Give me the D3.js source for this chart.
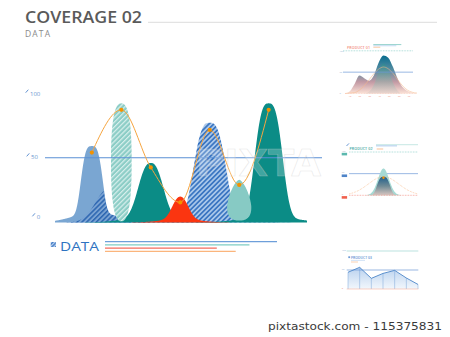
<!DOCTYPE html>
<html><head><meta charset="utf-8">
<script src="https://cdn.jsdelivr.net/npm/d3@7"></script>
<style>html,body{margin:0;padding:0;background:#fff;} svg{display:block;}</style>
</head><body>
<svg id="c" width="450" height="337"></svg>
<script>
// ================= DATA =================
const titleText = "COVERAGE 02";
const subtitleText = "DATA";
const categories = ["A", "B", "C", "D", "E", "F", "G"];
const peakValues = [59, 92, 46, 20, 77, 33, 92];          // height of each distribution
const peakSpread = [0.34, 0.35, 0.40, 0.26, 0.51, 0.41, 0.44]; // spread, in category units
const lineValues = [54, 87, 42.5, 15.5, 71.5, 29, 87];    // orange trend line
const shadowPeak = [1.55, 26, 0.42];                        // hidden hatched base: position, value, spread
const yTicks = [0, 50, 100];
const refValue = 50;
const legendLabel = "DATA";
const legendValues = [100, 84, 65, 76];

// small panel 1
const p1Title = "PRODUCT 01";
const p1Area = [0, 5, 22, 42, 36, 30, 42, 72, 89, 84, 62, 34, 15, 6, 2, 0];
const p1Inner = [0, 0, 0, 0, 0, 4, 20, 50, 70, 55, 25, 6, 0, 0, 0, 0];
const p1Curve = [0, 1, 2, 8, 18, 32, 46, 57, 62, 58, 47, 32, 18, 8, 3, 1];
const p1Ticks = ["10", "20", "30", "40", "50", "60", "70"];
const p1YTicks = [0, 50, 100];
// small panel 2
const p2Title = "PRODUCT 02";
const p2Peaks = [62, 43];       // light bell, dark bell
const p2Spread = [0.8, 0.87];
const p2Curve = [43, 2.2];      // orange dotted bell: height, spread
const p2YTicks = [0, 50, 100];
// small panel 3
const p3Title = "PRODUCT 03";
const p3Values = [44, 57, 28, 41, 49, 29, 12];
const p3YTicks = [0, 50, 100];

const watermark = "pixtastock.com - 115375831";

// ================= DRAW =================
const svg = d3.select("#c");
const defs = svg.append("defs");
const FONT = "'Open Sans', 'Noto Sans', sans-serif";

function hatch(id, bg, fg, w, size) {
  const p = defs.append("pattern").attr("id", id).attr("patternUnits", "userSpaceOnUse")
    .attr("width", size).attr("height", size).attr("patternTransform", "rotate(45)");
  p.append("rect").attr("width", size).attr("height", size).attr("fill", bg);
  p.append("rect").attr("width", w).attr("height", size).attr("fill", fg);
}
hatch("hTeal", "#8ccdc6", "#d9f0ed", 1.2, 3.4);
hatch("hBlue", "#a9c7ea", "#3b76c2", 1.7, 3.4);
hatch("hDark", "#7aa3d3", "#2b65b0", 1.5, 3.4);
hatch("hLegend", "#b9d1ef", "#3b76c2", 1.3, 2.6);

// --- header ---
svg.append("text").attr("x", 25).attr("y", 22.7).attr("font-family", FONT).attr("font-weight", 600)
  .attr("font-size", 16).attr("fill", "#5a5a5a").attr("textLength", 117).attr("lengthAdjust", "spacingAndGlyphs")
  .text(titleText);
svg.append("line").attr("x1", 148).attr("x2", 437).attr("y1", 22.3).attr("y2", 22.3)
  .attr("stroke", "#dddddd").attr("stroke-width", 1);
svg.append("text").attr("x", 25).attr("y", 36.7).attr("font-family", FONT)
  .attr("font-size", 8.5).attr("fill", "#8a8a8a").attr("textLength", 25).text(subtitleText);

// --- main chart ---
const x = d3.scaleLinear().domain([-0.25, 8.3]).range([55, 307]);
const y = d3.scaleLinear().domain([0, 100]).range([222.5, 93]);
const pos = categories.map((c, i) => i + 1);

const peakStyle = [
  { fill: "#7aa6d2", kind: "bell", p: 3.5, tail: [0.12, 2] },
  { fill: "url(#hTeal)", kind: "drop", center: 0.51, bottom: 0.01, pu: 2.5, pl: 2.5 },
  { fill: "#0b8c86", kind: "bell", p: 2.5, tail: [0.1, 2] },
  { fill: "#fb3510", kind: "bell", p: 2.2, tail: [0.12, 2.5] },
  { fill: "url(#hBlue)", kind: "bell", p: 3, tail: [0.05, 2] },
  { fill: "#87cac4", kind: "drop", center: 0.36, bottom: 0.045, pu: 1.5, pl: 2.5 },
  { fill: "#0b8c86", kind: "bell", p: 3, tail: [0.05, 2] }
];
const drawOrder = [0, "shadow", 2, 1, 4, 6, 5, 3];
const us = d3.range(-0.25, 8.3001, 0.01);

const bellVal = (u, cx, P, s, p, tail) => {
  const t = tail || [0, 1];
  return P * ((1 - t[0]) * Math.exp(-0.5 * Math.pow(Math.abs((u - cx) / s), p)) +
              t[0] * Math.exp(-0.5 * Math.pow((u - cx) / (s * t[1]), 2)));
};
function bellPath(cx, P, s, st) {
  return d3.area().x(u => x(u)).y0(y(0)).y1(u => y(bellVal(u, cx, P, s, st.p, st.tail)))(us);
}
function dropPath(cx, P, a, st) {
  const c = P * st.center, b = P * st.bottom;
  const pts = [];
  for (let k = 0; k <= 240; k++) {
    const th = -Math.PI / 2 + 2 * Math.PI * k / 240;
    const ct = Math.cos(th), sn = Math.sin(th);
    const up = sn >= 0;
    const pe = up ? st.pu : st.pl;
    const semi = up ? (P - c) : (c - b);
    const dx = a * Math.sign(ct) * Math.pow(Math.abs(ct), 2 / pe);
    const dv = semi * Math.sign(sn) * Math.pow(Math.abs(sn), 2 / pe);
    pts.push([x(cx + dx), y(c + dv)]);
  }
  return d3.line()(pts) + "Z";
}

const gPeaks = svg.append("g");
drawOrder.forEach(k => {
  if (k === "shadow") {
    // hatched base that sits inside the first distribution
    const d = d3.area().x(u => x(u)).y0(y(0)).y1(u => y(Math.min(
      bellVal(u, shadowPeak[0], shadowPeak[1], shadowPeak[2], 2),
      0.8 * bellVal(u, pos[0], peakValues[0], peakSpread[0], peakStyle[0].p, peakStyle[0].tail) + 2.5)))(us);
    gPeaks.append("path").attr("d", d).attr("fill", "url(#hDark)");
    return;
  }
  const st = peakStyle[k];
  const d = st.kind === "bell" ? bellPath(pos[k], peakValues[k], peakSpread[k], st)
                               : dropPath(pos[k], peakValues[k], peakSpread[k], st);
  gPeaks.append("path").attr("d", d).attr("fill", st.fill);
});

// reference line
svg.append("line").attr("x1", 45).attr("x2", 322).attr("y1", y(refValue)).attr("y2", y(refValue))
  .attr("stroke", "#5a8fd4").attr("stroke-width", 1);

// y tick labels with slashes
const tx = d3.scaleLinear().domain([0, 50, 100]).range([36.7, 31, 30]);
const ty = d3.scaleLinear().domain([0, 50, 100]).range([-3.2, 1.6, 2.7]);
const gT = svg.append("g");
yTicks.forEach(v => {
  const xx = tx(v), base = y(v) + ty(v);
  gT.append("line").attr("x1", xx - 4.3).attr("x2", xx - 1.7).attr("y1", base - 3).attr("y2", base - 6)
    .attr("stroke", "#4f86cc").attr("stroke-width", 0.9);
  gT.append("text").attr("x", xx).attr("y", base).attr("font-family", FONT).attr("font-size", 6)
    .attr("fill", "#6b96cf").text(v);
});

// orange line
svg.append("path").datum(lineValues)
  .attr("d", d3.line().x((v, i) => x(pos[i])).y(v => y(v)).curve(d3.curveMonotoneX))
  .attr("fill", "none").attr("stroke", "#f6a540").attr("stroke-width", 1);
svg.append("g").selectAll("circle").data(lineValues).join("circle")
  .attr("cx", (v, i) => x(pos[i])).attr("cy", v => y(v)).attr("r", 2.1).attr("fill", "#f39200");

// watermark (faint)
svg.append("text").attr("x", 196).attr("y", 176).attr("font-family", "'DejaVu Sans', sans-serif")
  .attr("font-weight", "bold").attr("font-size", 38).attr("textLength", 125).attr("lengthAdjust", "spacingAndGlyphs")
  .attr("fill", "#ffffff").attr("fill-opacity", 0.22).attr("stroke", "#cccccc").attr("stroke-opacity", 0.5)
  .attr("stroke-width", 0.6).text("PIXTA");

// legend
svg.append("rect").attr("x", 50.7).attr("y", 242).attr("width", 5.2).attr("height", 5).attr("fill", "url(#hLegend)");
svg.append("text").attr("x", 60).attr("y", 250.8).attr("font-family", FONT).attr("font-size", 12.5)
  .attr("fill", "#2e73c1").attr("textLength", 39).attr("lengthAdjust", "spacingAndGlyphs").text(legendLabel);
const lx = d3.scaleLinear().domain([0, 100]).range([105, 277]);
const legendColors = ["#6e9fda", "#7fcdc4", "#f36b5c", "#fbb57c"];
legendValues.forEach((v, i) => {
  svg.append("line").attr("x1", lx(0)).attr("x2", lx(v)).attr("y1", 241.7 + i * 3.2).attr("y2", 241.7 + i * 3.2)
    .attr("stroke", legendColors[i]).attr("stroke-width", 1.3);
});

// ================= small panel 1 =================
const g1 = svg.append("g");
const x1 = d3.scaleLinear().domain([0, 15]).range([345, 417]);
const y1 = d3.scaleLinear().domain([0, 100]).range([93.5, 50.8]);
const gr1 = defs.append("linearGradient").attr("id", "g1").attr("gradientUnits", "userSpaceOnUse")
  .attr("x1", 0).attr("x2", 0).attr("y1", y1(90)).attr("y2", y1(0));
[[0, "#056c8e"], [0.4, "#5a8ea2"], [0.7, "#c39aa4"], [1, "#fbe1d6"]].forEach(s =>
  gr1.append("stop").attr("offset", s[0]).attr("stop-color", s[1]));
const gr1b = defs.append("linearGradient").attr("id", "g1b").attr("gradientUnits", "userSpaceOnUse")
  .attr("x1", 0).attr("x2", 0).attr("y1", y1(70)).attr("y2", y1(0));
[[0, "#2d8b8e"], [0.6, "#9eaaa8"], [1, "#e6d2cc"]].forEach(s =>
  gr1b.append("stop").attr("offset", s[0]).attr("stop-color", s[1]));

g1.append("text").attr("x", 347).attr("y", 48.6).attr("font-family", FONT).attr("font-weight", 600)
  .attr("font-size", 3.6).attr("fill", "#f28a7a").attr("textLength", 23).text(p1Title);
g1.append("rect").attr("x", 373.3).attr("y", 44).attr("width", 28).attr("height", 1.1).attr("fill", "#9fd6d1");
g1.append("rect").attr("x", 373.3).attr("y", 45.4).attr("width", 23).attr("height", 0.8).attr("fill", "#b7d2ee");
g1.append("rect").attr("x", 373.3).attr("y", 46.8).attr("width", 7).attr("height", 0.7).attr("fill", "#f7b27e");
g1.append("line").attr("x1", 343).attr("x2", 413).attr("y1", y1(100)).attr("y2", y1(100))
  .attr("stroke", "#8fd0ca").attr("stroke-width", 0.8).attr("stroke-dasharray", "0.8,0.8");
g1.append("path").datum(p1Area).attr("d", d3.area().x((v, i) => x1(i)).y0(y1(0)).y1(v => y1(v)).curve(d3.curveMonotoneX))
  .attr("fill", "url(#g1)");
g1.append("path").datum(p1Inner).attr("d", d3.area().x((v, i) => x1(i)).y0(y1(0)).y1(v => y1(v)).curve(d3.curveMonotoneX))
  .attr("fill", "url(#g1b)").attr("opacity", 0.75);
g1.append("path").datum(p1Curve).attr("d", d3.line().x((v, i) => x1(i)).y(v => y1(v)).curve(d3.curveMonotoneX))
  .attr("fill", "none").attr("stroke", "#f6b88a").attr("stroke-width", 0.6).attr("opacity", 0.9);
g1.append("line").attr("x1", 343).attr("x2", 413).attr("y1", y1(50)).attr("y2", y1(50))
  .attr("stroke", "#6d9ad6").attr("stroke-width", 0.7);
g1.append("line").attr("x1", 345).attr("x2", 417).attr("y1", y1(0)).attr("y2", y1(0))
  .attr("stroke", "#f7c2b0").attr("stroke-width", 0.5).attr("stroke-dasharray", "0.8,0.8");
p1YTicks.forEach(v => g1.append("text").attr("x", 339.5).attr("y", y1(v) + 0.8).attr("font-family", FONT)
  .attr("font-size", 2.4).attr("fill", "#9db6d6").text(v));
const xt1 = d3.scalePoint().domain(p1Ticks).range([350, 409]);
p1Ticks.forEach(t => g1.append("text").attr("x", xt1(t)).attr("y", 97.3).attr("text-anchor", "middle")
  .attr("font-family", FONT).attr("font-size", 2.2).attr("fill", "#f08a7a").text(t));

// ================= small panel 2 =================
const g2 = svg.append("g");
const x2 = d3.scaleLinear().domain([0, 10]).range([349, 418]);
const y2 = d3.scaleLinear().domain([0, 100]).range([195.3, 152]);
const gr2 = defs.append("linearGradient").attr("id", "g2").attr("gradientUnits", "userSpaceOnUse")
  .attr("x1", 0).attr("x2", 0).attr("y1", y2(43)).attr("y2", y2(0));
[[0, "#1f5f8c"], [0.5, "#6f8a95"], [1, "#d8c6c0"]].forEach(s =>
  gr2.append("stop").attr("offset", s[0]).attr("stop-color", s[1]));
const u2 = d3.range(0, 10.001, 0.05);
const bell2 = (H, s, p) => d3.area().x(u => x2(u)).y0(y2(0))
  .y1(u => y2(H * Math.exp(-0.5 * Math.pow(Math.abs((u - 5) / s), p))))(u2);

g2.append("line").attr("x1", 346.5).attr("x2", 349).attr("y1", 146).attr("y2", 143.4)
  .attr("stroke", "#5a8fd0").attr("stroke-width", 0.9);
g2.append("text").attr("x", 349.5).attr("y", 149.5).attr("font-family", FONT).attr("font-weight", 600)
  .attr("font-size", 3.6).attr("fill", "#3aa49b").attr("textLength", 23).text(p2Title);
g2.append("line").attr("x1", 376).attr("x2", 418).attr("y1", 144.7).attr("y2", 144.7).attr("stroke", "#9fd6d1").attr("stroke-width", 0.6);
g2.append("rect").attr("x", 376).attr("y", 145.3).attr("width", 21).attr("height", 1.1).attr("fill", "#b3cfee");
g2.append("rect").attr("x", 376.7).attr("y", 148.6).attr("width", 6.5).attr("height", 0.8).attr("fill", "#f7b27e");
g2.append("line").attr("x1", 349).attr("x2", 418).attr("y1", y2(100)).attr("y2", y2(100))
  .attr("stroke", "#8fd0ca").attr("stroke-width", 0.8).attr("stroke-dasharray", "0.8,0.8");
g2.append("line").attr("x1", 349).attr("x2", 418).attr("y1", y2(50)).attr("y2", y2(50))
  .attr("stroke", "#6d9ad6").attr("stroke-width", 0.7);
g2.append("path").attr("d", bell2(p2Peaks[0], p2Spread[0], 2)).attr("fill", "#a6dad4");
g2.append("path").attr("d", bell2(p2Peaks[1], p2Spread[1], 3)).attr("fill", "url(#g2)");
g2.append("path").datum(u2).attr("d", d3.line().x(u => x2(u))
  .y(u => y2(p2Curve[0] * Math.exp(-0.5 * Math.pow((u - 5) / p2Curve[1], 2)))))
  .attr("fill", "none").attr("stroke", "#f7b27e").attr("stroke-width", 0.8).attr("stroke-dasharray", "0.7,1");
g2.append("circle").attr("cx", x2(5)).attr("cy", y2(p2Peaks[1]) + 1).attr("r", 1.2).attr("fill", "#f39200");
g2.append("line").attr("x1", 349).attr("x2", 418).attr("y1", y2(0)).attr("y2", y2(0))
  .attr("stroke", "#f4857a").attr("stroke-width", 0.7).attr("stroke-dasharray", "0.8,0.8");
const p2Colors = ["#5bb8ae", "#4f84c8", "#f0604d"];
[100, 50, 0].forEach((v, i) => {
  g2.append("rect").attr("x", 341.7).attr("y", y2(v) + 0.8).attr("width", 5.4).attr("height", 2.6).attr("fill", p2Colors[i]);
  g2.append("text").attr("x", 341.7).attr("y", y2(v) - 0.4).attr("font-family", FONT).attr("font-size", 2.2)
    .attr("fill", "#a8b8c8").text(p2YTicks[2 - i]);
});

// ================= small panel 3 =================
const g3 = svg.append("g");
const x3 = d3.scaleLinear().domain([0, p3Values.length - 1]).range([348, 418]);
const y3 = d3.scaleLinear().domain([0, 100]).range([289, 251]);
const gr3 = defs.append("linearGradient").attr("id", "g3").attr("gradientUnits", "userSpaceOnUse")
  .attr("x1", 0).attr("x2", 0).attr("y1", y3(60)).attr("y2", y3(0));
[[0, "#b7d0ee"], [1, "#f2f7fc"]].forEach(s => gr3.append("stop").attr("offset", s[0]).attr("stop-color", s[1]));
g3.append("line").attr("x1", 346.7).attr("x2", 418.3).attr("y1", y3(100)).attr("y2", y3(100))
  .attr("stroke", "#9fd6d1").attr("stroke-width", 0.7);
g3.append("rect").attr("x", 348.3).attr("y", 256.3).attr("width", 1.8).attr("height", 1.8).attr("fill", "#6d9ad6");
g3.append("text").attr("x", 351).attr("y", 258.8).attr("font-family", FONT).attr("font-weight", 600)
  .attr("font-size", 3.4).attr("fill", "#5a8fd0").attr("textLength", 21).text(p3Title);
g3.append("line").attr("x1", 351).attr("x2", 365).attr("y1", 260.4).attr("y2", 260.4).attr("stroke", "#b3cfee").attr("stroke-width", 0.6);
g3.append("line").attr("x1", 351).attr("x2", 358).attr("y1", 262).attr("y2", 262).attr("stroke", "#f7b27e").attr("stroke-width", 0.6);
g3.append("path").datum(p3Values).attr("d", d3.area().x((v, i) => x3(i)).y0(y3(0)).y1(v => y3(v)))
  .attr("fill", "url(#g3)");
g3.append("g").selectAll("line").data(p3Values).join("line")
  .attr("x1", (v, i) => x3(i)).attr("x2", (v, i) => x3(i)).attr("y1", v => y3(v)).attr("y2", y3(0))
  .attr("stroke", "#7aa5d8").attr("stroke-width", 0.5);
g3.append("line").attr("x1", 346.7).attr("x2", 418.3).attr("y1", y3(50)).attr("y2", y3(50))
  .attr("stroke", "#6d9ad6").attr("stroke-width", 0.7);
g3.append("path").datum(p3Values).attr("d", d3.line().x((v, i) => x3(i)).y(v => y3(v)))
  .attr("fill", "none").attr("stroke", "#4c86c8").attr("stroke-width", 0.9);
g3.append("line").attr("x1", 346.7).attr("x2", 418.3).attr("y1", y3(0)).attr("y2", y3(0))
  .attr("stroke", "#f6b2a0").attr("stroke-width", 0.6);
p3YTicks.forEach(v => g3.append("text").attr("x", 341.7).attr("y", y3(v) - 0.5).attr("font-family", FONT)
  .attr("font-size", 2.4).attr("fill", v === 0 ? "#f08a7a" : "#9db6d6").text(v));

// ================= watermark text =================
svg.append("text").attr("x", 268).attr("y", 330).attr("font-family", "'DejaVu Sans', sans-serif")
  .attr("font-size", 10.5).attr("fill", "#3a3a3a").attr("textLength", 174).attr("lengthAdjust", "spacingAndGlyphs")
  .text(watermark);
</script>
</body></html>
